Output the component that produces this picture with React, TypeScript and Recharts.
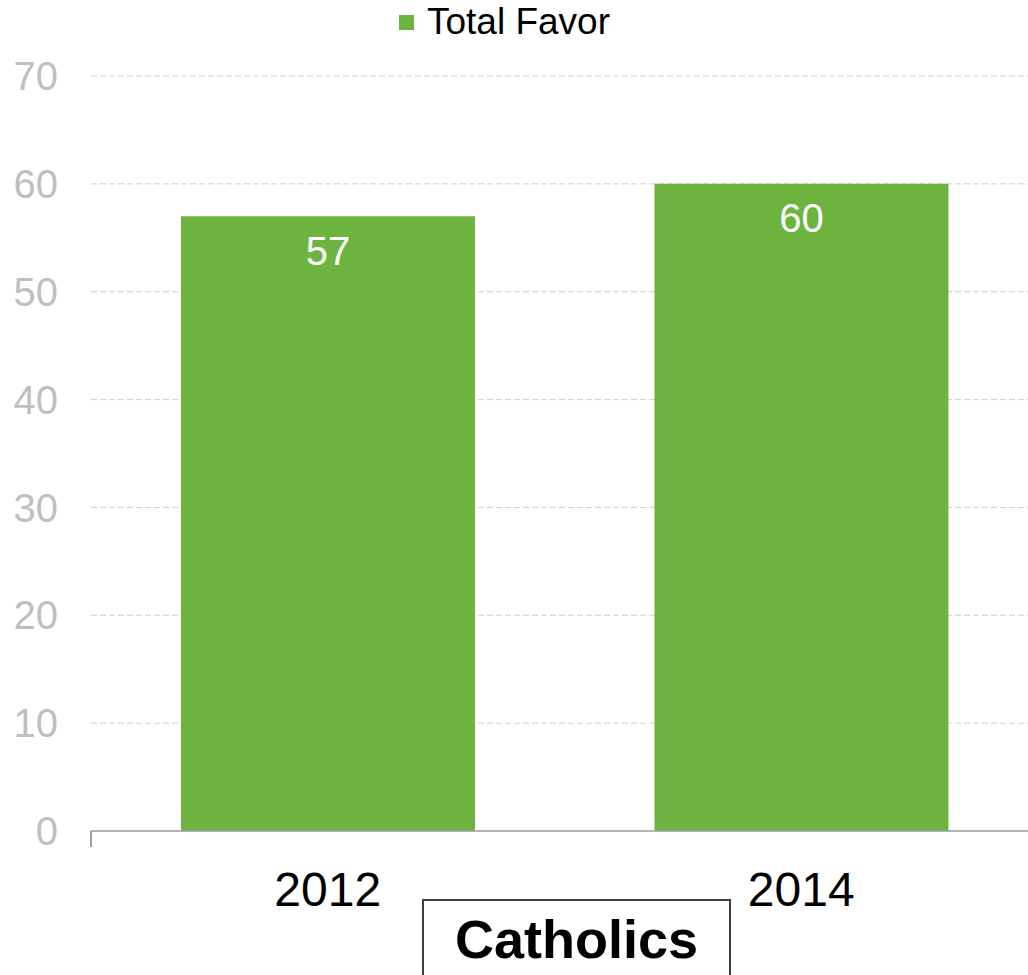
import React from 'react';
import { BarChart, Bar, XAxis, YAxis, CartesianGrid, LabelList } from 'recharts';

const years = ['2012', '2014'];
const totalFavor = [57, 60];
const yTicks = [0, 10, 20, 30, 40, 50, 60, 70];

const green = '#6db33f';
const font = '"Liberation Sans", Arial, sans-serif';

const data = years.map((year, i) => ({ year, favor: totalFavor[i] }));

export default function App() {
  return (
    <div
      style={{
        position: 'relative',
        width: 1028,
        height: 975,
        overflow: 'hidden',
        background: '#fff',
        fontFamily: font,
      }}
    >
      <style>{'html,body{margin:0;padding:0;overflow:hidden}'}</style>
      <BarChart
        width={1040}
        height={975}
        data={data}
        margin={{ top: 76, right: 2, bottom: 0, left: 0 }}
        barCategoryGap="19%"
      >
        <CartesianGrid vertical={false} stroke="#cfcfcf" strokeDasharray="6 3" />
        <XAxis
          dataKey="year"
          height={144}
          axisLine={{ stroke: '#a0a0a0', strokeWidth: 1.5 }}
          tickLine={false}
          tickMargin={35}
          tick={{ fill: '#000', fontSize: 48, fontFamily: font }}
        />
        <YAxis
          width={91}
          domain={[0, 70]}
          ticks={yTicks}
          axisLine={false}
          tickLine={false}
          tickMargin={27}
          tick={{ fill: '#bfbfbf', fontSize: 40, fontFamily: font }}
        />
        <Bar dataKey="favor" fill={green} isAnimationActive={false}>
          <LabelList
            dataKey="favor"
            position="insideTop"
            offset={20}
            fill="#fff"
            fontSize={40}
            fontFamily={font}
          />
        </Bar>
      </BarChart>

      {/* legend */}
      <div style={{ position: 'absolute', left: 399, top: 15, width: 15, height: 15, background: green }} />
      <span
        style={{ position: 'absolute', left: 427, top: 3, fontSize: 37, lineHeight: 1, color: '#000', whiteSpace: 'nowrap' }}
      >
        Total Favor
      </span>

      {/* left stub of the category axis */}
      <div style={{ position: 'absolute', left: 90, top: 831, width: 1.5, height: 16, background: '#a0a0a0' }} />

      {/* group title */}
      <div
        style={{
          position: 'absolute',
          left: 422,
          top: 899,
          width: 305,
          height: 100,
          border: '2px solid #404040',
        }}
      />
      <span
        style={{
          position: 'absolute',
          left: 422,
          width: 309,
          top: 912,
          textAlign: 'center',
          fontSize: 54,
          fontWeight: 'bold',
          lineHeight: 1,
          color: '#000',
        }}
      >
        Catholics
      </span>
    </div>
  );
}
